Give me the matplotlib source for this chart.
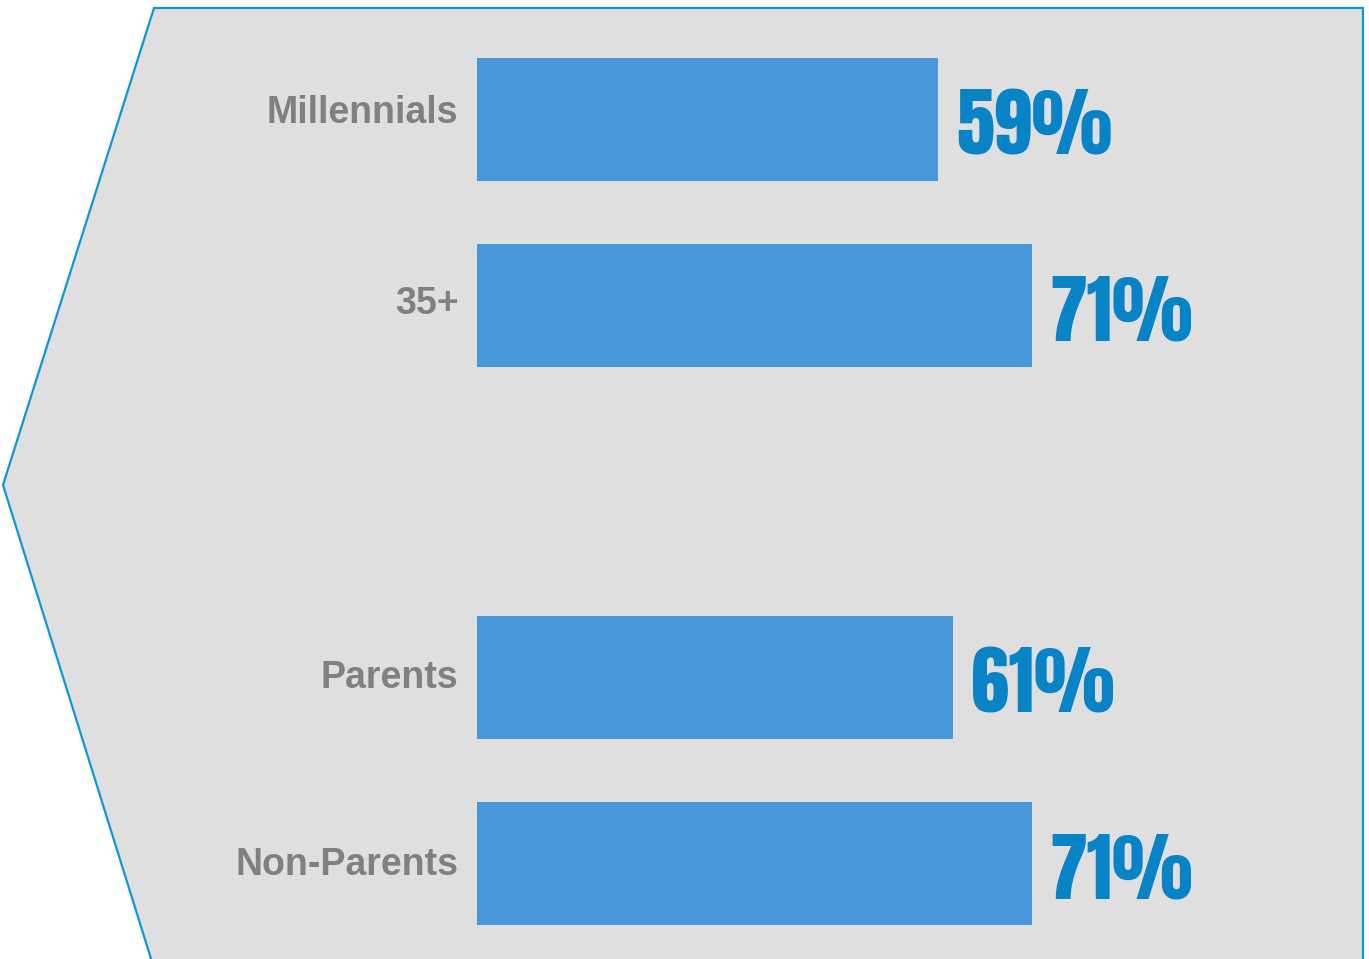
import matplotlib
matplotlib.use("Agg")
import matplotlib.pyplot as plt
from matplotlib.patches import Polygon

# Survey shares by segment
categories = ["Millennials", "35+", "Parents", "Non-Parents"]
values = [59, 71, 61, 71]
positions = [0, 1, 3, 4]
value_labels = [f"{v}%" for v in values]

# baseline of each category label, relative to its bar centre (bar units)
label_baseline = [0.019, 0.046, 0.056, 0.062]

W, H = 1369, 959
fig = plt.figure(figsize=(W / 100, H / 100), dpi=100)
fig.patch.set_facecolor("white")

# Arrow-shaped backdrop (pixel coordinates converted to figure fractions)
pts_px = [(154, 8), (1363, 8), (1363, 965), (153, 965), (3, 485)]
pts = [(x / W, 1 - y / H) for x, y in pts_px]
backdrop = Polygon(pts, closed=True, transform=fig.transFigure,
                   facecolor="#dfdfdf", edgecolor="#0a99d6", linewidth=1.6,
                   zorder=-5)
fig.patches.append(backdrop)

# Bar axes: x=0 at the bars' left edge, 100% spans 781 px
ax_left, ax_w = 477 / W, 781 / W
ax_top_px, ax_bot_px = 26.5, 956.5
ax = fig.add_axes([ax_left, 1 - ax_bot_px / H, ax_w, (ax_bot_px - ax_top_px) / H])
ax.set_zorder(1)
ax.set_facecolor("none")
ax.set_xlim(0, 100)
ax.set_ylim(4.5, -0.5)
ax.axis("off")

ax.barh(positions, values, height=0.661, color="#4898d9", zorder=2)

for p, v, lab, cat, lb in zip(positions, values, value_labels, categories,
                              label_baseline):
    ax.text(v + 2.3, p + 0.188, lab, ha="left", va="baseline",
            fontsize=55, color="#0884c6",
            family=["Anton", "Oswald", "DejaVu Sans"], clip_on=False)
    ax.text(-2.4, p + lb, cat, ha="right", va="baseline",
            fontsize=27, fontweight="bold", color="#808080",
            family=["Liberation Sans", "DejaVu Sans"], clip_on=False)

fig.savefig("out.png", dpi=100, facecolor="white")
